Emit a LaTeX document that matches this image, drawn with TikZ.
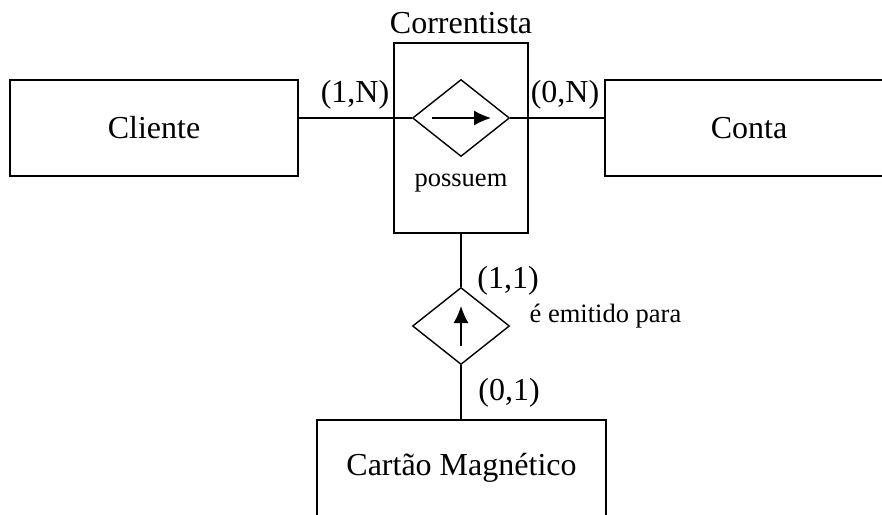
\documentclass[tikz,border=0pt]{standalone}
\usepackage{fontspec}
\setmainfont{Liberation Serif}
\usetikzlibrary{shapes.geometric, arrows.meta}

\begin{document}
\begin{tikzpicture}[x = 1pt, y = -1pt, line width = 1.4pt, > = {Latex[length = 17pt, width = 15pt]},
	big/.style = {font = \fontsize{32}{38}\selectfont, inner sep = 0pt},
	small/.style = {font = \fontsize{26.5}{32}\selectfont, inner sep = 0pt},
	entity/.style = {draw, rectangle, line width = 1.8pt, minimum width = 288pt, minimum height = 96pt, big},
	relation/.style = {draw, diamond, minimum width = 97pt, minimum height = 77pt, inner sep = 0pt}]

	% Page

	\useasboundingbox (0, 0) rectangle (882, 514);
	\clip (0, 0) rectangle (882, 514);

	% Entities

	\node [entity] (cliente) at (154, 128) {Cliente};
	\node [entity] (conta) at (749, 128) {Conta};
	\node [entity, minimum width = 289pt] (cartao) at (461.5, 468) {Cartão Magnético};

	% Aggregation Correntista

	\node [draw, rectangle, minimum width = 134pt, minimum height = 190pt] (corr) at (461, 138) {};
	\node [big] (corrname) at (461, 23) {Correntista};

	% Relationships

	\node [relation] (possuem) at (461, 118) {};
	\node [small] (possuemname) at (461, 183) {possuem};
	\coordinate (possuemtail) at (432, 118);
	\coordinate (possuemhead) at (491, 118);
	\draw [->] (possuemtail) -- (possuemhead);

	\node [relation] (emitido) at (461, 326) {};
	\node [small, anchor = base west] (emitidoname) at (529, 322) {é emitido para};
	\coordinate (emitidotail) at (461, 346);
	\coordinate (emitidohead) at (461, 306);
	\draw [->] (emitidotail) -- (emitidohead);

	% Connections

	\draw (possuem.west) -- (possuem.west -| cliente.east);
	\draw (possuem.east) -- (possuem.east -| conta.west);
	\draw (corr.south) -- (emitido.north);
	\draw (emitido.south) -- (emitido.south |- cartao.north);

	% Cardinalities

	\node [big] (cardcliente) at (355, 95) {(1,N)};
	\node [big] (cardconta) at (565, 95) {(0,N)};
	\node [big] (cardcorr) at (508, 281) {(1,1)};
	\node [big] (cardcartao) at (509, 393) {(0,1)};

\end{tikzpicture}
\end{document}
